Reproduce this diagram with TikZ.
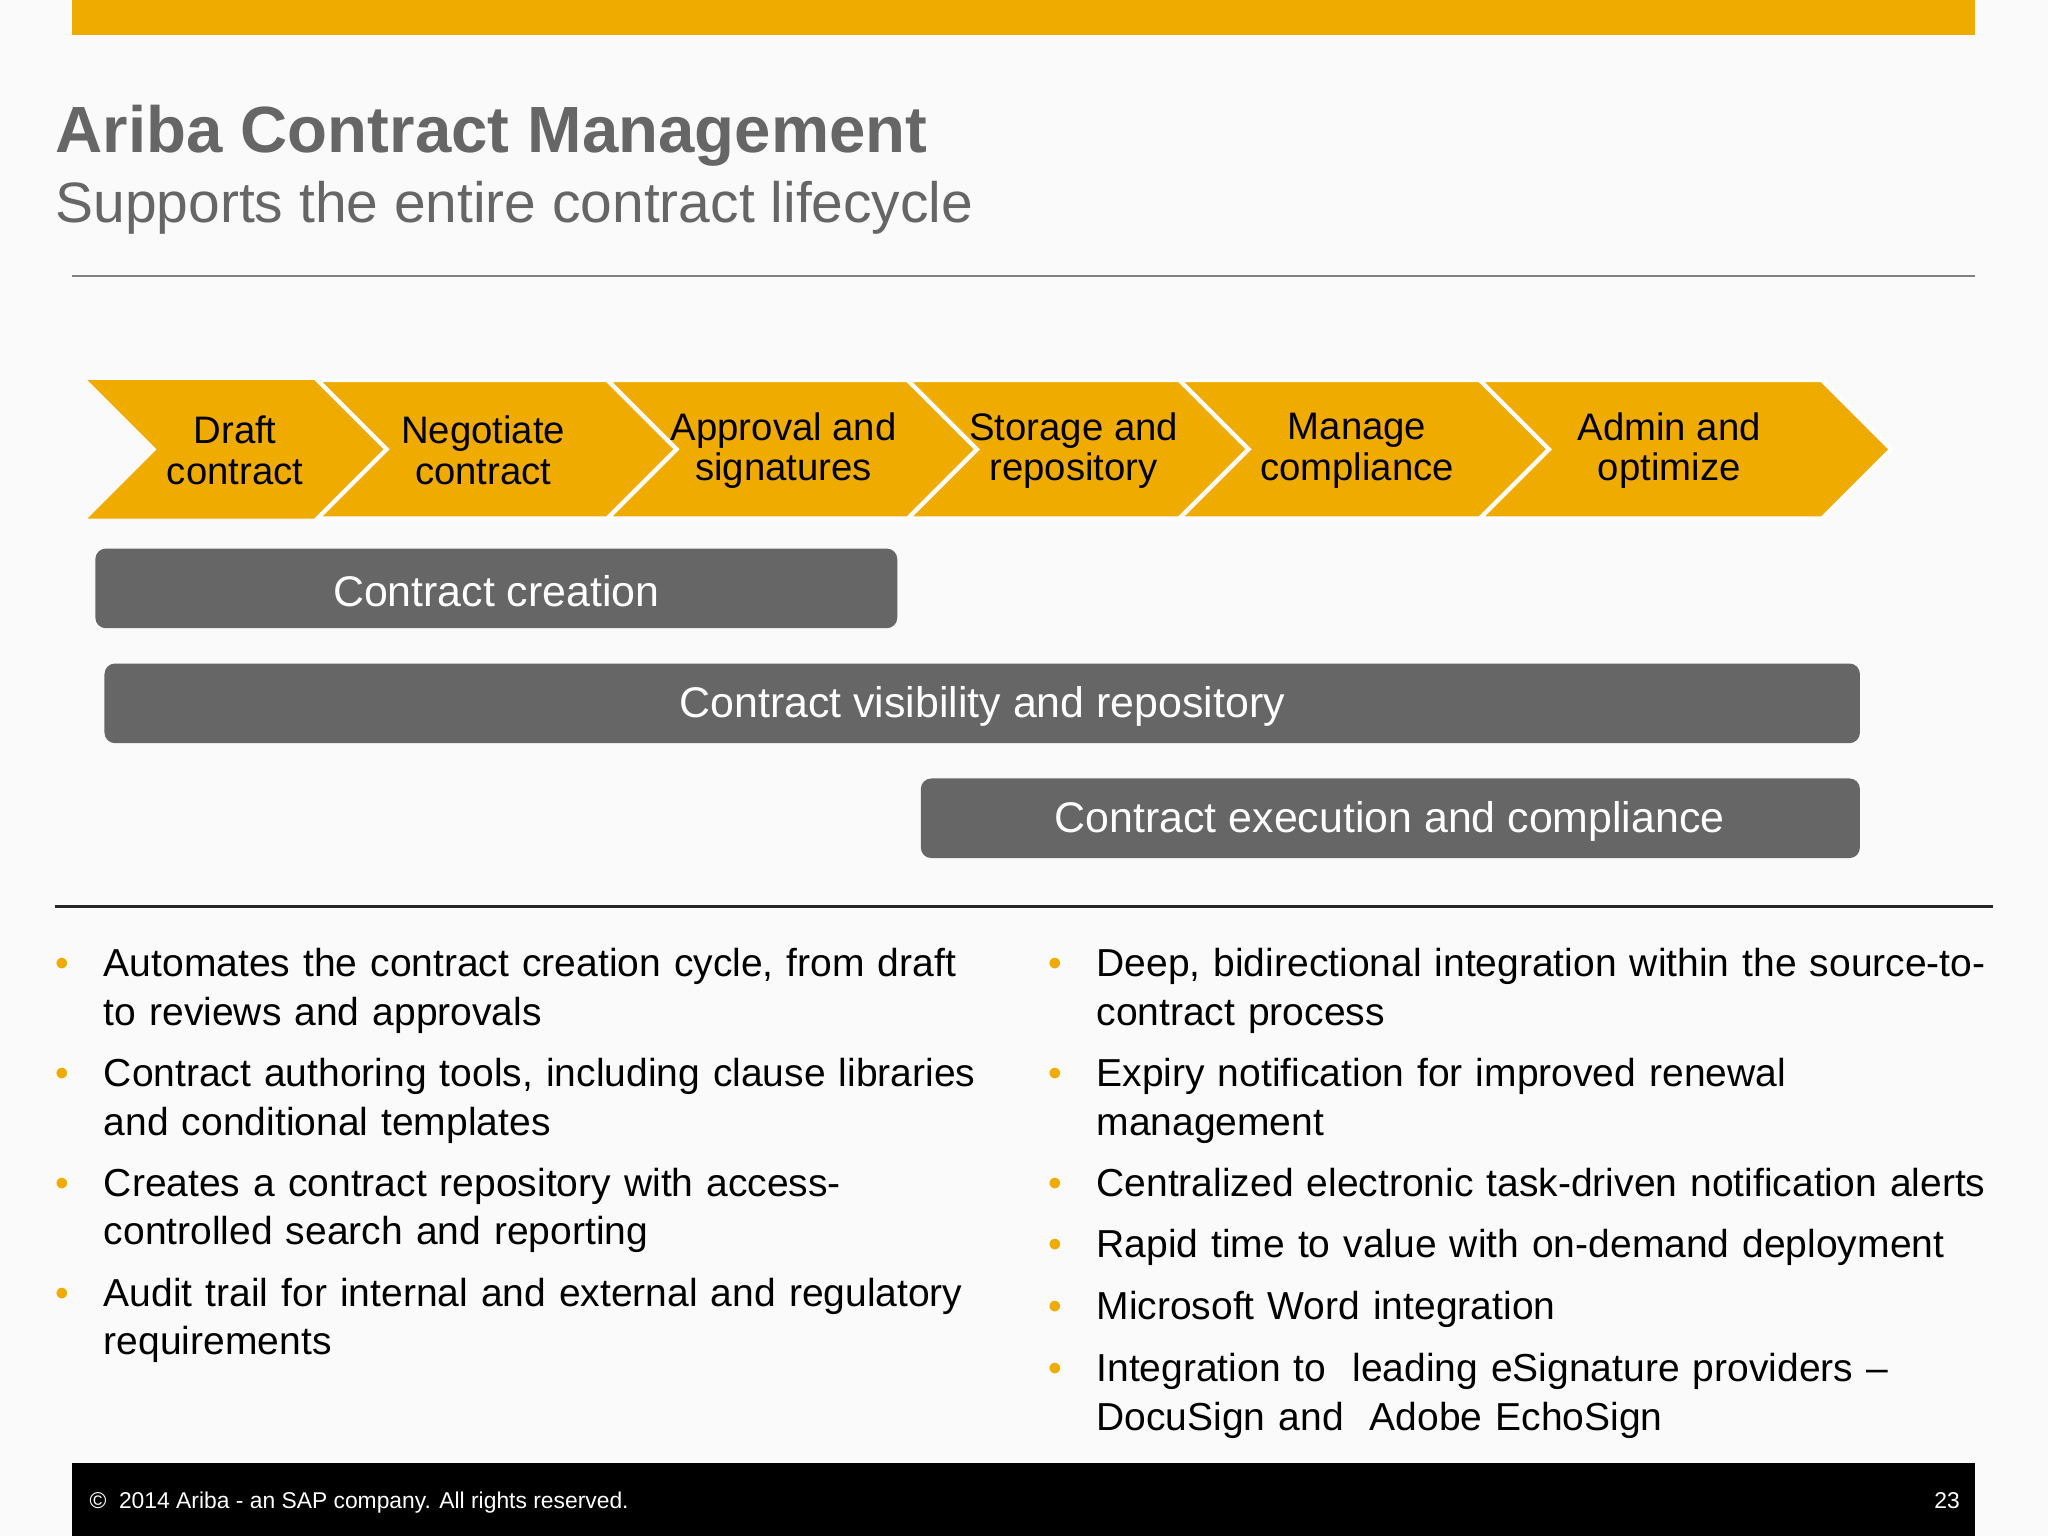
\documentclass[tikz,border=0pt]{standalone}
\usepackage{fontspec}
\setmainfont{Liberation Sans}
\definecolor{gold}{HTML}{F0AB00}
\definecolor{tgray}{HTML}{666666}
\definecolor{bargray}{HTML}{666666}
\begin{document}
\begin{tikzpicture}[x=0.01306cm,y=-0.01306cm,
  chev/.style={fill=gold,draw=white,line width=1.2pt},
  clab/.style={align=center,font=\fontsize{10.9pt}{11.6pt}\selectfont,text=black},
  bar/.style={fill=bargray,rounded corners=3pt},
  barlab/.style={text=white,font=\fontsize{12.2pt}{14pt}\selectfont},
  btext/.style={anchor=base west,align=left,text width=700*0.01306cm,font=\fontsize{11.1pt}{13.75pt}\selectfont,inner sep=0pt},
  bdot/.style={anchor=base west,text=gold,font=\fontsize{11.1pt}{13.75pt}\selectfont,inner sep=0pt}]
\useasboundingbox (0,0) rectangle (1568,1176);
\fill[white!98!black] (0,0) rectangle (1568,1176);
\fill[gold] (55,0) rectangle (1512,27);
\node[anchor=base west,inner sep=0pt,text=tgray,font=\fontsize{18.6pt}{20pt}\selectfont\bfseries] (title) at (42,117) {Ariba Contract Management};
\node[anchor=base west,inner sep=0pt,text=tgray,font=\fontsize{16.2pt}{18pt}\selectfont] (sub) at (42,170) {Supports the entire contract lifecycle};
\draw[gray,line width=0.6pt] (55,211) -- (1512,211);
% chevrons
\foreach \a/\b [count=\i] in {67/243,243/465,465/695,695/903,903/1133,1133/1395}{
  \ifnum\i=1
   \filldraw[chev,draw=none] (\a,291) -- (\b,291) -- (\b+53,344) -- (\b,397) -- (\a,397) -- (\a+53,344) -- cycle;
  \else
   \filldraw[chev] (\a,291) -- (\b,291) -- (\b+53,344) -- (\b,397) -- (\a,397) -- (\a+53,344) -- cycle;
  \fi
}
\node[clab] (c1) at (180,345) {Draft\\contract};
\node[clab] (c2) at (370,345) {Negotiate\\contract};
\node[clab] (c3) at (600,345) {Approval and\\signatures};
\node[clab] (c4) at (822,345) {Storage and\\repository};
\node[clab] (c5) at (1039,345) {Manage\\compliance};
\node[clab] (c6) at (1278,345) {Admin and\\optimize};
% bars
\fill[bar] (73,420) rectangle (687,481);
\node[barlab] (b1) at (380,453) {Contract creation};
\fill[bar] (80,508) rectangle (1424,569);
\node[barlab] (b2) at (752,541) {Contract visibility and repository};
\fill[bar] (705,596) rectangle (1424,657);
\node[barlab] (b3) at (1064,629) {Contract execution and compliance};
\draw[black!85,line width=0.6pt] (42,694) -- (1526,694);
% bullets left
\foreach \y/\t in {748/{Automates the contract creation cycle, from draft\\to reviews and approvals},832/{Contract authoring tools, including clause libraries\\and conditional templates},916/{Creates a contract repository with access-\\controlled search and reporting},1000/{Audit trail for internal and external and regulatory\\requirements}}{
  \node[bdot] at (42,\y) {•};
  \node[btext] at (79,\y) {\t};
}
\foreach \y/\t in {748/{Deep, bidirectional integration within the source-to-\\contract process},832/{Expiry notification for improved renewal\\management},916/{Centralized electronic task-driven notification alerts},963/{Rapid time to value with on-demand deployment},1010/{Microsoft Word integration},1058/{Integration to\ \ leading eSignature providers –\\DocuSign and\ \ Adobe EchoSign}}{
  \node[bdot] at (802,\y) {•};
  \node[btext] at (839,\y) {\t};
}
% footer
\fill[black] (55,1120) rectangle (1512,1176);
\node[anchor=base west,inner sep=0pt,text=white,font=\fontsize{6.5pt}{7pt}\selectfont] (copy) at (68,1155) {©\ \ 2014 Ariba - an SAP company. All rights reserved.};
\node[anchor=base east,inner sep=0pt,text=white,font=\fontsize{6.5pt}{7pt}\selectfont] (pg) at (1501,1155) {23};
\end{tikzpicture}
\end{document}
